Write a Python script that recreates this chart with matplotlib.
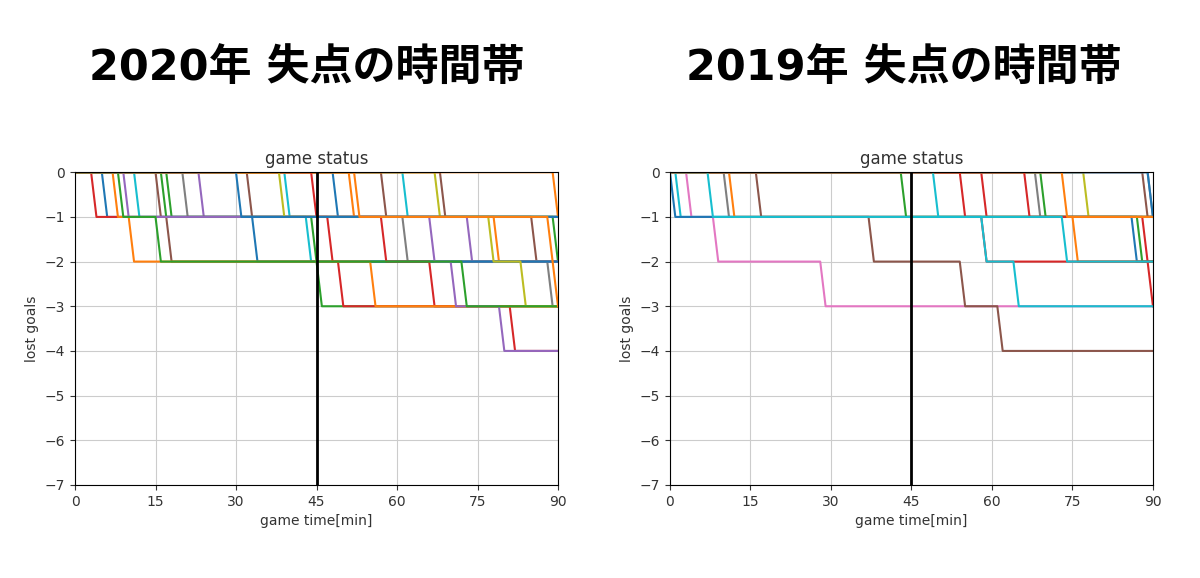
import numpy as np
import matplotlib
matplotlib.use("Agg")
import matplotlib.pyplot as plt

# minute of each goal conceded, one list per game (drawing order)
goals_2020 = [
    [39], [61], [57], [68], [67], [32, 85], [17, 89], [48], [51, 78], [89],
    [11, 43], [15, 17], [23, 73], [20, 61, 88], [5, 33], [3, 57, 66, 81],
    [16, 44, 45], [44, 47, 49], [7, 10, 55], [9, 66, 70, 79], [38, 77, 83],
    [8, 15, 72], [30], [52, 88, 89],
]
colors_2020 = [
    "tab:cyan", "tab:cyan", "tab:brown", "tab:brown", "tab:olive", "tab:brown",
    "tab:green", "tab:blue", "tab:orange", "tab:orange", "tab:cyan", "tab:brown",
    "tab:purple", "tab:gray", "tab:blue", "tab:red", "tab:green", "tab:red",
    "tab:orange", "tab:purple", "tab:olive", "tab:green", "tab:blue", "tab:orange",
]

goals_2019 = [
    [1], [10], [58], [68], [69], [77], [88], [89], [89], [3, 8, 28],
    [0, 86], [11, 75], [43, 87], [66, 88, 89], [16, 37, 54, 61], [54, 58],
    [7, 58, 64], [49, 73], [73],
]
colors_2019 = [
    "tab:cyan", "tab:gray", "tab:red", "tab:gray", "tab:green", "tab:olive",
    "tab:brown", "tab:gray", "tab:blue", "tab:pink", "tab:blue", "tab:orange",
    "tab:green", "tab:red", "tab:brown", "tab:red", "tab:cyan", "tab:cyan",
    "tab:orange",
]

titles = ["2020年 失点の時間帯", "2019年 失点の時間帯"]
minutes = np.arange(0, 91)


def lost_curve(goals):
    # goals conceded strictly before each minute
    g = np.array(goals)
    return np.array([-(g < m).sum() if len(g) else 0 for m in minutes])


fig = plt.figure(figsize=(12, 5.78), dpi=100)

boxes = [[0.0625, 0.161, 0.4025, 0.541], [0.5583, 0.161, 0.4025, 0.541]]
data = [(goals_2020, colors_2020), (goals_2019, colors_2019)]
centers = [0.2555, 0.7535]

for box, (games, cols), title, cx in zip(boxes, data, titles, centers):
    ax = fig.add_axes(box)
    for goals, c in zip(games, cols):
        ax.plot(minutes, lost_curve(goals), color=c, lw=1.5)
    ax.axvline(45, color="black", lw=2)
    ax.set_xlim(0, 90)
    ax.set_ylim(-7, 0)
    ax.set_xticks(np.arange(0, 91, 15))
    ax.set_yticks(np.arange(-7, 1, 1))
    ax.grid(True, color="#cccccc")
    ax.set_title("game status", fontsize=12, color="#333333")
    ax.set_xlabel("game time[min]", color="#333333")
    ax.set_ylabel("lost goals", color="#333333")
    ax.tick_params(colors="#333333")

    fig.text(cx, 0.882, title, ha="center", va="center", fontsize=31,
             fontweight="bold", family=["DejaVu Sans", "Noto Sans CJK JP"])

fig.savefig("out.png", dpi=100)
